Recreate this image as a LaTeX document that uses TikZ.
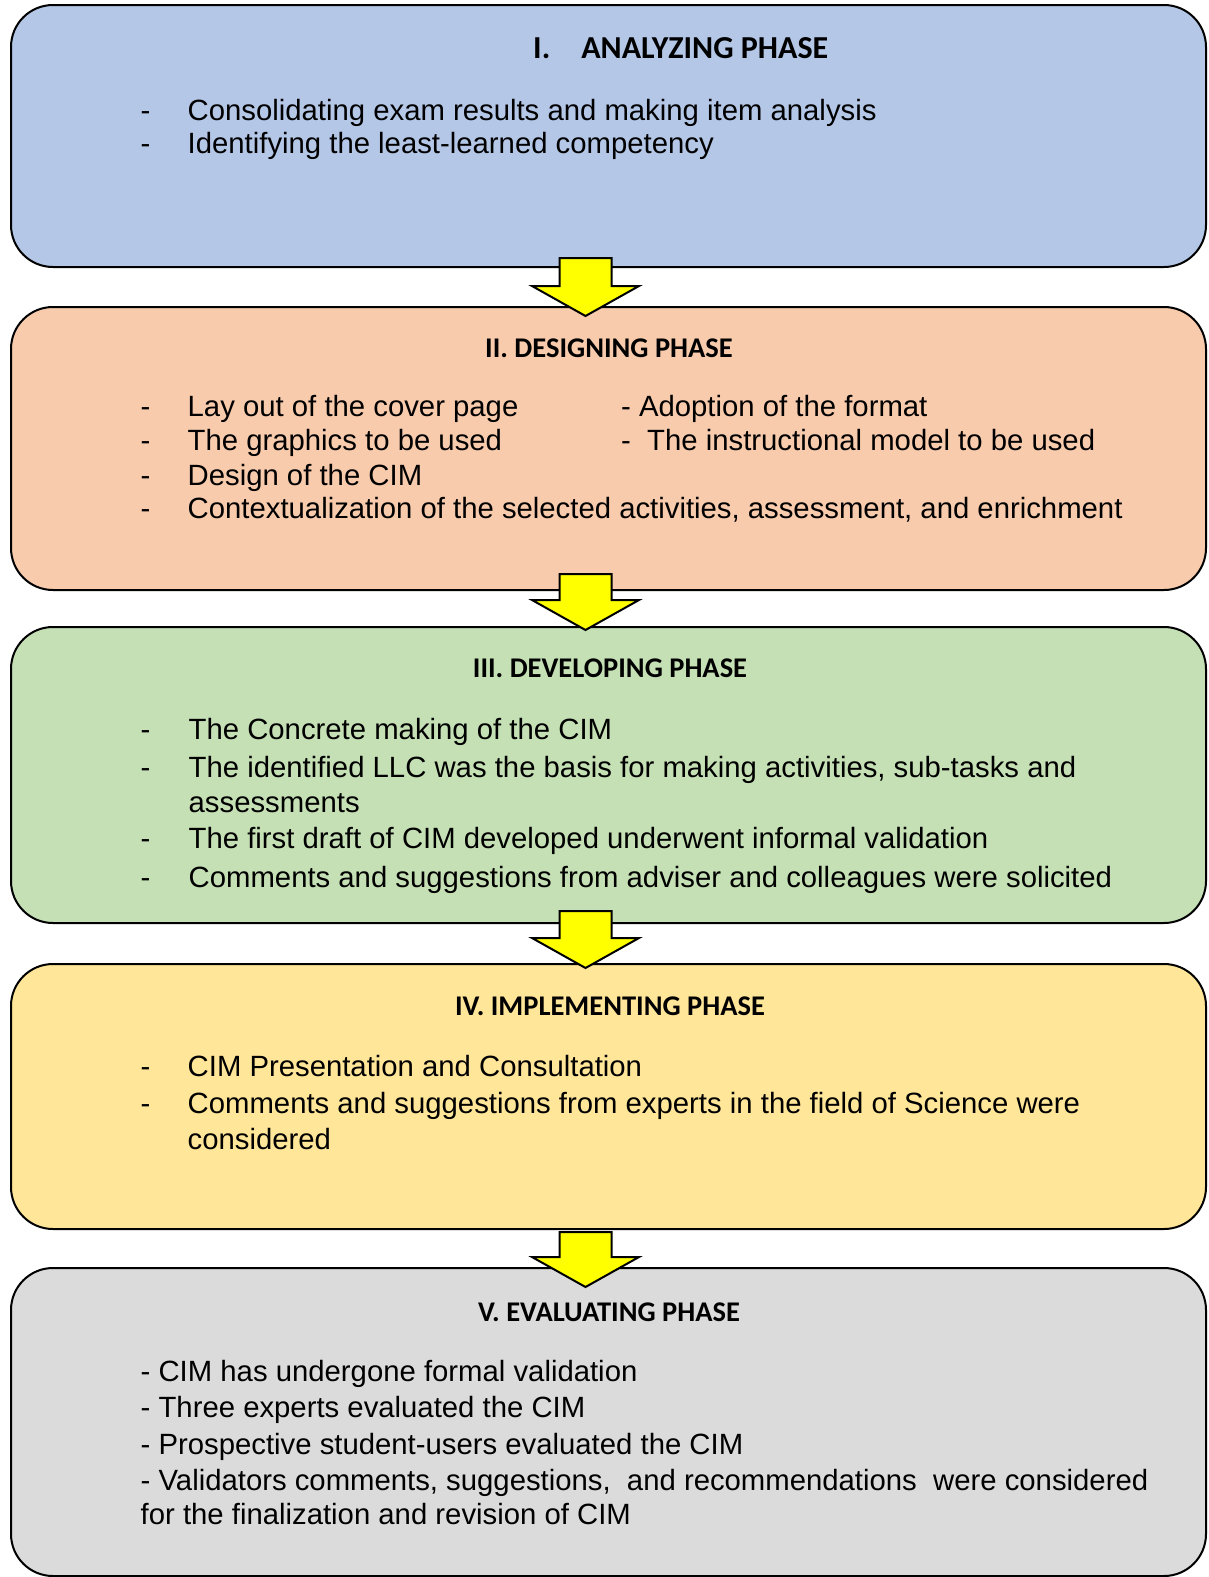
\documentclass[tikz,border=0pt]{standalone}
\usepackage{fontspec}
\setmainfont{Liberation Sans}
\newfontfamily\headfont{Carlito}
\usetikzlibrary{calc}
\definecolor{anablue}{RGB}{180,199,231}
\definecolor{despeach}{RGB}{248,203,173}
\definecolor{devgreen}{RGB}{197,224,180}
\definecolor{impyellow}{RGB}{255,230,153}
\definecolor{evalgray}{RGB}{219,219,219}
\definecolor{arryellow}{RGB}{255,255,0}

\begin{document}
\begin{tikzpicture}[
  x=1pt,y=-1pt,
  phase/.style={draw=black,line width=2pt,rounded corners=42pt,minimum width=1195pt,inner sep=0pt},
  head/.style={font=\headfont\bfseries\fontsize{28.5}{32}\selectfont,anchor=base,inner sep=0pt},
  item/.style={font=\fontsize{29.3}{34}\selectfont,anchor=base west,inner sep=0pt},
  blockarr/.style={draw=black,line width=2pt,fill=arryellow,line join=miter},
]
\useasboundingbox (0,0) rectangle (1208,1577);
% phase boxes
\node[phase,fill=anablue,minimum height=262pt] (p1) at (608.5,136) {};
\node[phase,fill=despeach,minimum height=283pt] (p2) at (608.5,448.5) {};
\node[phase,fill=devgreen,minimum height=296pt] (p3) at (608.5,775) {};
\node[phase,fill=impyellow,minimum height=265pt] (p4) at (608.5,1096.5) {};
\node[phase,fill=evalgray,minimum height=308pt] (p5) at (608.5,1422) {};
% block arrows between phases
\foreach \a/\b/\ta/\tb in {p1/p2/-10/10,p2/p3/-17/4,p3/p4/-13/5,p4/p5/2/20}
  \draw[blockarr] ($(\a.south)+(-49,\ta)$) -- ($(\a.south)+(3,\ta)$) -- ($(\b.north)+(3,\tb-30)$)
    -- ($(\b.north)+(30.5,\tb-30)$) -- ($(\b.north)+(-23,\tb)$) -- ($(\b.north)+(-76.5,\tb-30)$)
    -- ($(\b.north)+(-49,\tb-30)$) -- cycle;
% I. analyzing
\node[head,anchor=base west,font=\headfont\bfseries\fontsize{32}{36}\selectfont] (h1) at (533,58) {I.\hspace{31pt}ANALYZING PHASE};
\foreach \y/\t [count=\i] in {120/Consolidating exam results and making item analysis,
    153/Identifying the least-learned competency}{
  \node[item] (a\i d) at (140.5,\y) {-};
  \node[item] (a\i) at (187.5,\y) {\t};
}
% II. designing
\node[head] (h2) at (609,357) {II. DESIGNING PHASE};
\foreach \y/\t [count=\i] in {416/Lay out of the cover page,450/The graphics to be used,
    485/Design of the CIM,{518/{Contextualization of the selected activities, assessment, and enrichment}}}{
  \node[item] (d\i d) at (140.5,\y) {-};
  \node[item] (d\i) at (187.5,\y) {\t};
}
\node[item] (d5) at (621,416) {- Adoption of the format};
\node[item] (d6) at (621,450) {-\ \ The instructional model to be used};
% III. developing
\node[head] (h3) at (610,677) {III. DEVELOPING PHASE};
\foreach \y/\t [count=\i] in {739/The Concrete making of the CIM,
    {777/{The identified LLC was the basis for making activities, sub-tasks and}},
    848/The first draft of CIM developed underwent informal validation,
    887/Comments and suggestions from adviser and colleagues were solicited}{
  \node[item] (v\i d) at (140.5,\y) {-};
  \node[item] (v\i) at (188.5,\y) {\t};
}
\node[item] (v5) at (188.5,812) {assessments};
% IV. implementing
\node[head] (h4) at (610,1015) {IV. IMPLEMENTING PHASE};
\foreach \y/\t [count=\i] in {1076/CIM Presentation and Consultation,
    1113/Comments and suggestions from experts in the field of Science were}{
  \node[item] (m\i d) at (140.5,\y) {-};
  \node[item] (m\i) at (187.5,\y) {\t};
}
\node[item] (m3) at (187.5,1149) {considered};
% V. evaluating
\node[head] (h5) at (609,1321) {V. EVALUATING PHASE};
\foreach \y/\t [count=\i] in {1381/- CIM has undergone formal validation,
    1417/- Three experts evaluated the CIM,
    1454/- Prospective student-users evaluated the CIM,
    {1490/{- Validators comments, suggestions, \ and recommendations \ were considered}},
    1524/for the finalization and revision of CIM}
  \node[item] (e\i) at (140.5,\y) {\t};
\end{tikzpicture}
\end{document}
